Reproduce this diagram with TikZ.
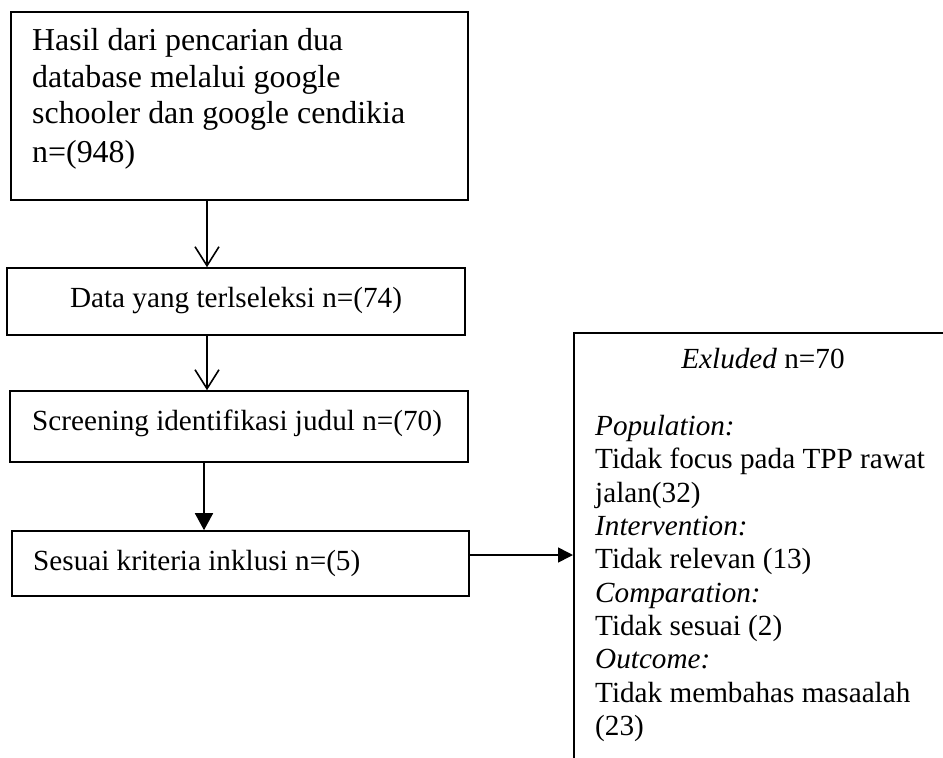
\documentclass[tikz,border=0pt]{standalone}
\usepackage{fontspec}
\setmainfont{Liberation Serif}
\usetikzlibrary{arrows.meta}
\begin{document}
\begin{tikzpicture}[x=1pt,y=-1pt,
  box/.style={draw,line width=1.6pt,rectangle,inner sep=0pt},
  txt/.style={inner sep=0pt,font=\fontsize{29.2}{33}\selectfont},
  bigtxt/.style={inner sep=0pt,font=\fontsize{31.9}{37}\selectfont},
  conn/.style={line width=1.6pt},
  openhead/.style={conn,-{Straight Barb[length=19pt,width=24pt,line width=1.6pt]}},
  filledhead/.style={conn,-{Triangle[length=17pt,width=18pt]}},
  sidehead/.style={conn,-{Triangle[length=15pt,width=15pt]}}]
\useasboundingbox (0,0) rectangle (943,758);
\clip (0,0) rectangle (943,758);
% boxes
\node[box,minimum width=457pt,minimum height=188pt] (b1) at (239.5,106) {};
\node[box,minimum width=458pt,minimum height=67pt] (b2) at (236,301.5) {};
\node[box,minimum width=458pt,minimum height=71pt] (b3) at (239,426.5) {};
\node[box,minimum width=457pt,minimum height=65pt] (b4) at (240.5,563.5) {};
\node[box,minimum width=400pt,minimum height=460pt,anchor=north west] (b5) at (573,332) {};
% texts
\node[bigtxt,anchor=base west] (t1a) at (32,50) {Hasil dari pencarian dua};
\node[bigtxt,anchor=base west] (t1b) at (32,87) {database melalui google};
\node[bigtxt,anchor=base west] (t1c) at (32,123) {schooler dan google cendikia};
\node[bigtxt,anchor=base west] (t1d) at (32,162) {n=(948)};
\node[txt,anchor=base] (t2) at (236,307) {Data yang terlseleksi n=(74)};
\node[txt,anchor=base west] (t3) at (32,430) {Screening identifikasi judul n=(70)};
\node[txt,anchor=base west] (t4) at (33,570) {Sesuai kriteria inklusi n=(5)};
\node[txt,anchor=base] (t5) at (763,368) {\textit{Exluded} n=70};
\node[txt,anchor=base west] (t6) at (595,435) {\textit{Population:}};
\node[txt,anchor=base west] (t7) at (595,468) {Tidak focus pada TPP rawat};
\node[txt,anchor=base west] (t8) at (595,502) {jalan(32)};
\node[txt,anchor=base west] (t9) at (595,535) {\textit{Intervention:}};
\node[txt,anchor=base west] (t10) at (595,568) {Tidak relevan (13)};
\node[txt,anchor=base west] (t11) at (595,602) {\textit{Comparation:}};
\node[txt,anchor=base west] (t12) at (595,635) {Tidak sesuai (2)};
\node[txt,anchor=base west] (t13) at (595,668) {\textit{Outcome:}};
\node[txt,anchor=base west] (t14) at (595,702) {Tidak membahas masaalah};
\node[txt,anchor=base west] (t15) at (595,735) {(23)};
% connectors
\coordinate (c1) at (207,0);
\coordinate (c3) at (204,0);
\coordinate (c4) at (0,555);
\draw[openhead] (b1.south -| c1) -- (b2.north -| c1);
\draw[openhead] (b2.south -| c1) -- (b3.north -| c1);
\draw[filledhead] (b3.south -| c3) -- (b4.north -| c3);
\draw[sidehead] (b4.east |- c4) -- (b5.west |- c4);
\end{tikzpicture}
\end{document}
